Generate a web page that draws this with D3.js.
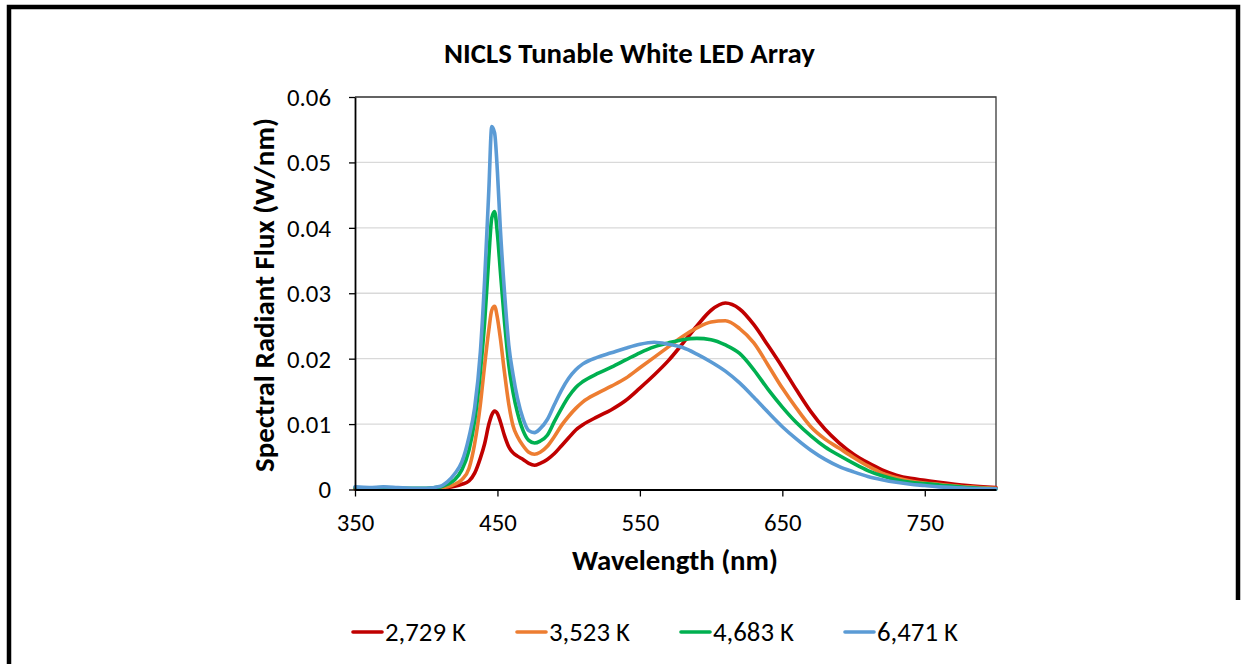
<!DOCTYPE html>
<html>
<head>
<meta charset="utf-8">
<script src="https://cdn.jsdelivr.net/npm/d3@7"></script>
<style>
  body { margin: 0; background: #fff; }
  svg { display: block; }
  text { font-family: Carlito, Calibri, Lato, "Noto Sans", sans-serif; fill: #000; }
</style>
</head>
<body>
<svg id="chart" width="1243" height="664"></svg>
<script>
// Spectral radiant flux (W/nm) of the tunable white LED array at four CCT settings
const wavelengths = [350,360,370,380,390,400,410,415,420,425,430,
  434,438,441,444,446,448,450,452,455,458,461,464,468,472,476,480,485,490,495,500,505,510,
  520,530,540,550,560,570,580,590,600,610,620,630,640,650,660,670,680,690,700,710,720,730,740,750,760,780,800];

const flux2729 = [.0001,.0001,.0001,.0001,.0001,.0001,.0002,.0003,.0005,.0008,.0013,
  .0025,.0048,.0070,.0100,.0114,.0120,.0116,.0104,.0082,.0065,.0056,.0051,.0046,.0040,.0037,.0040,.0046,.0055,.0067,.0079,.0091,.0099,
  .0111,.0122,.0136,.0155,.0175,.0197,.0223,.0250,.0274,.0285,.0276,.0252,.0220,.0187,.0152,.0119,.0092,.0071,.0054,.0041,.0030,.0022,.0017,.0014,.0011,.0006,.0003];

const flux3523 = [.0001,.0001,.0001,.0001,.0001,.0001,.0002,.0004,.0008,.0015,.0032,
  .0070,.0130,.0190,.0245,.0274,.0280,.0262,.0232,.0178,.0130,.0097,.0081,.0067,.0057,.0054,.0057,.0066,.0081,.0098,.0112,.0124,.0134,
  .0147,.0158,.0170,.0186,.0202,.0218,.0234,.0247,.0256,.0258,.0246,.0224,.0190,.0155,.0124,.0096,.0077,.0063,.0049,.0036,.0025,.0018,.0013,.0010,.0008,.0004,.0002];

const flux4683 = [.0003,.0002,.0003,.0002,.0002,.0002,.0004,.0008,.0015,.0030,.0060,
  .0105,.0180,.0255,.0357,.0415,.0425,.0390,.0335,.0255,.0190,.0148,.0118,.0090,.0075,.0071,.0074,.0083,.0104,.0124,.0142,.0156,.0165,
  .0177,.0187,.0198,.0209,.0218,.0224,.0229,.0231,.0229,.0221,.0208,.0183,.0153,.0126,.0102,.0082,.0065,.0052,.0040,.0029,.0021,.0015,.0011,.0009,.0007,.0003,.0001];

const flux6471 = [.0004,.0003,.0004,.0003,.0002,.0002,.0005,.0012,.0024,.0042,.0080,
  .0125,.0210,.0320,.0460,.0555,.0545,.0485,.0400,.0300,.0220,.0175,.0140,.0108,.0090,.0087,.0093,.0107,.0130,.0152,.0170,.0183,.0192,
  .0202,.0209,.0216,.0222,.0225,.0222,.0217,.0207,.0195,.0181,.0163,.0141,.0118,.0096,.0077,.0060,.0046,.0035,.0027,.0020,.0015,.0011,.0008,.0006,.0004,.0002,.0001];

const seriesNames = ["2,729 K", "3,523 K", "4,683 K", "6,471 K"];
const seriesColors = ["#C00000", "#ED7D31", "#00B050", "#5B9BD5"];
const seriesValues = [flux2729, flux3523, flux4683, flux6471];

const xTicks = [350, 450, 550, 650, 750];
const yTicks = [0, 0.01, 0.02, 0.03, 0.04, 0.05, 0.06];

const titleText = "NICLS Tunable White LED Array";
const xTitle = "Wavelength (nm)";
const yTitle = "Spectral Radiant Flux (W/nm)";

// ---- layout ----
const svg = d3.select("#chart");
const plot = { left: 355, right: 996, top: 97, bottom: 489.5 };

const x = d3.scaleLinear().domain([350, 800]).range([plot.left, plot.right]);
const y = d3.scaleLinear().domain([0, 0.06]).range([plot.bottom, plot.top]);

// scale a text element's font so that it spans a given width
function fitWidth(sel, width) {
  const node = sel.node();
  const base = parseFloat(sel.style("font-size"));
  const w = node.getComputedTextLength();
  if (w > 0) sel.style("font-size", (base * width / w) + "px");
  return parseFloat(sel.style("font-size"));
}

// outer frame
svg.append("path")
  .attr("d", "M9,664 V7 H1238 V600")
  .attr("fill", "none")
  .attr("stroke", "#000")
  .attr("stroke-width", 4.5);

// gridlines
svg.append("g")
  .selectAll("line")
  .data(yTicks.filter(d => d > 0))
  .join("line")
  .attr("x1", plot.left).attr("x2", plot.right)
  .attr("y1", d => y(d)).attr("y2", d => y(d))
  .attr("stroke", "#d9d9d9")
  .attr("stroke-width", 1.3);

// plot area border (top and right)
svg.append("path")
  .attr("d", `M${plot.left},${plot.top} H${plot.right} V${plot.bottom}`)
  .attr("fill", "none")
  .attr("stroke", "#3a3a3a")
  .attr("stroke-width", 1.3);

// series lines
const line = d3.line()
  .x((d, i) => x(wavelengths[i]))
  .y(d => y(d))
  .curve(d3.curveMonotoneX);

svg.append("g")
  .selectAll("path")
  .data(seriesValues)
  .join("path")
  .attr("d", d => line(d))
  .attr("fill", "none")
  .attr("stroke", (d, i) => seriesColors[i])
  .attr("stroke-width", 3.6)
  .attr("stroke-linejoin", "round")
  .attr("stroke-linecap", "round");

// axes
const tickFont = 22;
const xAxis = svg.append("g")
  .attr("transform", `translate(0,${plot.bottom})`)
  .call(d3.axisBottom(x).tickValues(xTicks).tickSize(7).tickSizeOuter(0).tickPadding(17).tickFormat(d3.format("d")));
const yAxis = svg.append("g")
  .attr("transform", `translate(${plot.left},0)`)
  .call(d3.axisLeft(y).tickValues(yTicks).tickSize(6).tickSizeOuter(0).tickPadding(18)
    .tickFormat(d => d === 0 ? "0" : d3.format(".2f")(d)));

[xAxis, yAxis].forEach(g => {
  g.select(".domain").attr("stroke", "#000").attr("stroke-width", 1.8);
  g.selectAll(".tick line").attr("stroke", "#000").attr("stroke-width", 1.3);
  g.selectAll(".tick text")
    .style("font-family", "Carlito, Calibri, Lato, 'Noto Sans', sans-serif")
    .style("font-size", tickFont + "px")
    .attr("fill", "#000");
});

// size tick labels from the widest y label
const yLabel = yAxis.selectAll(".tick text").filter(d => d === 0.06);
const tickSize = fitWidth(yLabel, 44);
xAxis.selectAll(".tick text").style("font-size", tickSize + "px");
yAxis.selectAll(".tick text").style("font-size", tickSize + "px").attr("dy", "0.34em");

// chart title
const title = svg.append("text")
  .attr("x", 629.5).attr("y", 63)
  .attr("text-anchor", "middle")
  .style("font-weight", "bold")
  .style("font-size", "22px")
  .text(titleText);
fitWidth(title, 371);

// axis titles
const xt = svg.append("text")
  .attr("x", 675).attr("y", 570)
  .attr("text-anchor", "middle")
  .style("font-weight", "bold")
  .style("font-size", "24px")
  .text(xTitle);
fitWidth(xt, 206);

const yt = svg.append("text")
  .attr("transform", "translate(274,295) rotate(-90)")
  .attr("text-anchor", "middle")
  .style("font-weight", "bold")
  .style("font-size", "24px")
  .text(yTitle);
fitWidth(yt, 354);

// legend
const legend = svg.append("g").attr("transform", "translate(352,632)");
const items = legend.selectAll("g")
  .data(seriesNames)
  .join("g")
  .attr("transform", (d, i) => `translate(${i * 164},0)`);
items.append("line")
  .attr("x1", 1).attr("x2", 30)
  .attr("y1", 0).attr("y2", 0)
  .attr("stroke", (d, i) => seriesColors[i])
  .attr("stroke-width", 3.6)
  .attr("stroke-linecap", "round");
const legendTexts = items.append("text")
  .attr("x", 33).attr("y", 0).attr("dy", "0.35em")
  .style("font-size", "22px")
  .text(d => d);
const legendSize = fitWidth(d3.select(legendTexts.node()), 81);
legendTexts.style("font-size", legendSize + "px");
</script>
</body>
</html>
